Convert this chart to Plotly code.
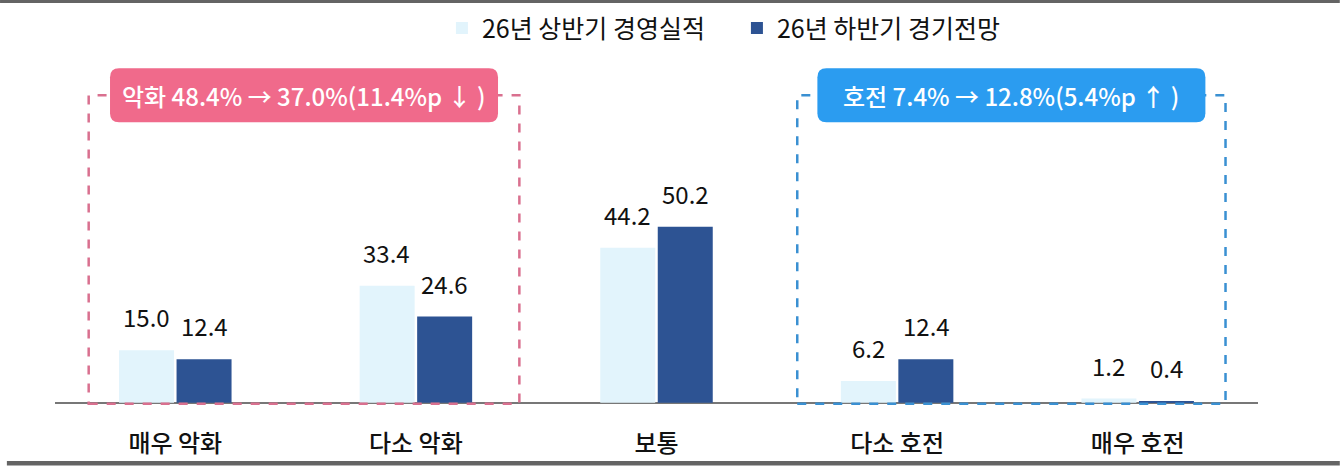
import plotly.graph_objects as go

categories = ["매우 악화", "다소 악화", "보통", "다소 호전", "매우 호전"]
series_names = ["26년 상반기 경영실적", "26년 하반기 경기전망"]
first_half = [15.0, 33.4, 44.2, 6.2, 1.2]
second_half = [12.4, 24.6, 50.2, 12.4, 0.4]
callouts = ["악화 48.4% → 37.0%(11.4%p ↓ )", "호전 7.4% → 12.8%(5.4%p ↑ )"]

FONT = "Noto Sans CJK KR"
LIGHT = "#e2f4fc"
DARK = "#2d5393"
PINK = "#f06a8b"
PINK_DASH = "#d9708f"
BLUE = "#2b9cf0"
BLUE_DASH = "#3a90d2"
BORDER = "#646464"

fig = go.Figure()
fig.add_trace(go.Bar(x=categories, y=first_half, name=series_names[0],
                     marker=dict(color=LIGHT, line=dict(width=0))))
fig.add_trace(go.Bar(x=categories, y=second_half, name=series_names[1],
                     marker=dict(color=DARK, line=dict(width=0))))

annotations = []
for i, cat in enumerate(categories):
    for vals, shift in ((first_half, -29), (second_half, 29)):
        annotations.append(dict(x=cat, y=vals[i], xref="x", yref="y",
                                text=f"{vals[i]:.1f}", showarrow=False,
                                xshift=shift, yshift=14, yanchor="bottom",
                                font=dict(family=FONT, size=24, color="#111111")))

shapes = []
# dashed group boxes
boxes = [(-0.36, 1.43, PINK, PINK_DASH, callouts[0]),
         (2.585, 4.365, BLUE, BLUE_DASH, callouts[1])]
box_top = 87.7
for x0, x1, fill, dash_col, label in boxes:
    shapes.append(dict(type="rect", xref="x", yref="y", x0=x0, x1=x1,
                       y0=-0.3, y1=box_top,
                       line=dict(color=dash_col, width=2.5, dash="dash"),
                       fillcolor="rgba(0,0,0,0)", layer="above"))
    cx = (x0 + x1) / 2
    w, h, r = 194, 27, 9
    path = (f"M{-w + r},{h} L{w - r},{h} Q{w},{h} {w},{h - r} "
            f"L{w},{-h + r} Q{w},{-h} {w - r},{-h} "
            f"L{-w + r},{-h} Q{-w},{-h} {-w},{-h + r} "
            f"L{-w},{h - r} Q{-w},{h} {-w + r},{h} Z")
    shapes.append(dict(type="path", xref="x", yref="y",
                       xsizemode="pixel", ysizemode="pixel",
                       xanchor=cx, yanchor=box_top, path=path,
                       fillcolor=fill, line=dict(width=0), layer="above"))
    annotations.append(dict(x=cx, y=box_top, xref="x", yref="y", text=label,
                            showarrow=False, yanchor="middle", xanchor="center",
                            font=dict(family=FONT, size=24, color="white",
                                      weight=500)))

# top and bottom border bars
shapes.append(dict(type="rect", xref="paper", yref="paper",
                   x0=-0.0457, x1=1.068, ysizemode="pixel", yanchor=1,
                   y0=57, y1=61, fillcolor=BORDER, line=dict(width=0)))
shapes.append(dict(type="rect", xref="paper", yref="paper",
                   x0=-0.04, x1=1.068, ysizemode="pixel", yanchor=0,
                   y0=-54, y1=-58.5, fillcolor=BORDER, line=dict(width=0)))

fig.update_layout(
    width=1340, height=470,
    margin=dict(l=55, r=82, t=60, b=63, autoexpand=False),
    paper_bgcolor="white", plot_bgcolor="white",
    barmode="group", bargap=0.522, bargroupgap=0.0435,
    font=dict(family=FONT, size=24, color="#111111"),
    showlegend=True,
    legend=dict(orientation="h", xref="container", yref="container",
                x=0.3298, xanchor="left", y=0.94, yanchor="middle",
                font=dict(family=FONT, size=25, color="#111111"),
                itemwidth=30, entrywidth=250, entrywidthmode="pixels",
                bgcolor="rgba(0,0,0,0)"),
    xaxis=dict(showline=False, showgrid=False, ticks="outside", ticklen=15,
               tickcolor="rgba(0,0,0,0)", automargin=False,
               tickfont=dict(family=FONT, size=24, color="#111111", weight=500)),
    yaxis=dict(range=[-1.2, 97.77], showgrid=False, showticklabels=False,
               zeroline=True, zerolinecolor="#777777", zerolinewidth=1.5,
               showline=False, automargin=False),
    annotations=annotations, shapes=shapes,
)

fig.write_html("out.html")
